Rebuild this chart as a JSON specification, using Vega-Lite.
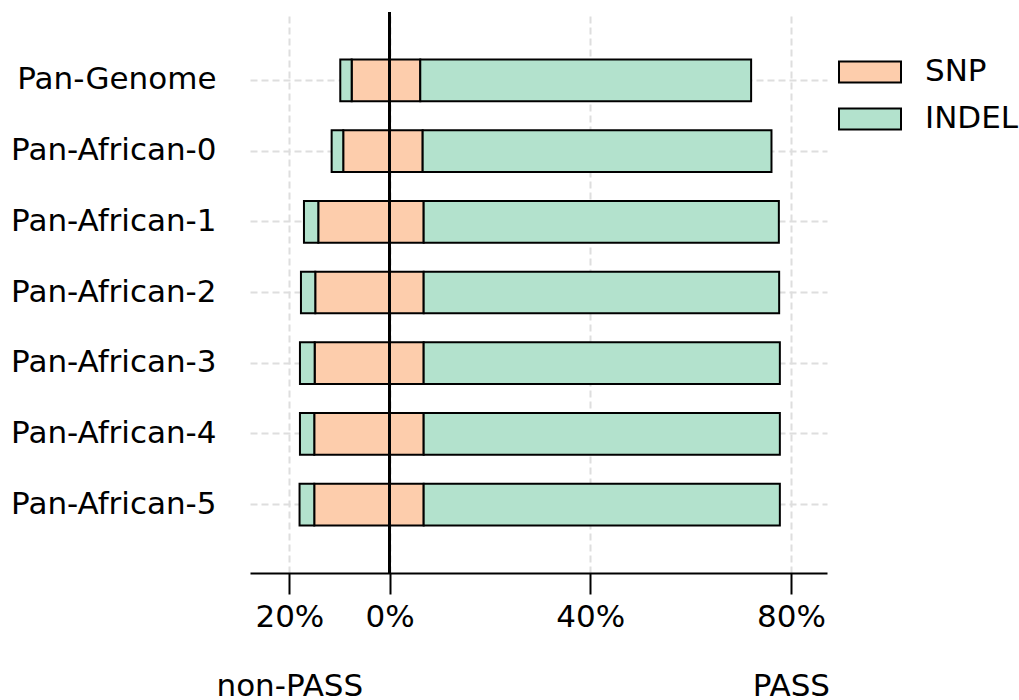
{
  "$schema": "https://vega.github.io/schema/vega-lite/v6.json",
  "width": 577,
  "height": 561,
  "autosize": {"type": "none"},
  "padding": {"left": 250, "top": 12, "right": 192, "bottom": 127},
  "background": "white",
  "config": {"view": {"stroke": null}, "font": "DejaVu Sans"},
  "data": {
    "values": [
      {"panel": "Pan-Genome", "type": "SNP", "pct": -7.58},
      {"panel": "Pan-Genome", "type": "INDEL", "pct": -2.27},
      {"panel": "Pan-Genome", "type": "SNP", "pct": 6.10},
      {"panel": "Pan-Genome", "type": "INDEL", "pct": 65.97},
      {"panel": "Pan-African-0", "type": "SNP", "pct": -9.26},
      {"panel": "Pan-African-0", "type": "INDEL", "pct": -2.31},
      {"panel": "Pan-African-0", "type": "SNP", "pct": 6.58},
      {"panel": "Pan-African-0", "type": "INDEL", "pct": 69.55},
      {"panel": "Pan-African-1", "type": "SNP", "pct": -14.24},
      {"panel": "Pan-African-1", "type": "INDEL", "pct": -2.85},
      {"panel": "Pan-African-1", "type": "SNP", "pct": 6.78},
      {"panel": "Pan-African-1", "type": "INDEL", "pct": 70.82},
      {"panel": "Pan-African-2", "type": "SNP", "pct": -14.84},
      {"panel": "Pan-African-2", "type": "INDEL", "pct": -2.85},
      {"panel": "Pan-African-2", "type": "SNP", "pct": 6.78},
      {"panel": "Pan-African-2", "type": "INDEL", "pct": 70.88},
      {"panel": "Pan-African-3", "type": "SNP", "pct": -14.96},
      {"panel": "Pan-African-3", "type": "INDEL", "pct": -2.93},
      {"panel": "Pan-African-3", "type": "SNP", "pct": 6.78},
      {"panel": "Pan-African-3", "type": "INDEL", "pct": 71.02},
      {"panel": "Pan-African-4", "type": "SNP", "pct": -15.04},
      {"panel": "Pan-African-4", "type": "INDEL", "pct": -2.85},
      {"panel": "Pan-African-4", "type": "SNP", "pct": 6.78},
      {"panel": "Pan-African-4", "type": "INDEL", "pct": 71.02},
      {"panel": "Pan-African-5", "type": "SNP", "pct": -15.04},
      {"panel": "Pan-African-5", "type": "INDEL", "pct": -2.93},
      {"panel": "Pan-African-5", "type": "SNP", "pct": 6.78},
      {"panel": "Pan-African-5", "type": "INDEL", "pct": 71.02}
    ]
  },
  "layer": [
    {
      "mark": {"type": "bar", "stroke": "black", "strokeWidth": 2, "opacity": 1},
      "encoding": {
        "y": {
          "field": "panel",
          "type": "nominal",
          "sort": ["Pan-Genome", "Pan-African-0", "Pan-African-1", "Pan-African-2", "Pan-African-3", "Pan-African-4", "Pan-African-5"],
          "scale": {"paddingInner": 0.41, "paddingOuter": 0.67},
          "axis": {
            "title": null,
            "domain": false,
            "ticks": false,
            "tickSize": 0,
            "labelFontSize": 31,
            "labelFont": "DejaVu Sans",
            "labelColor": "black",
            "labelPadding": 34,
            "labelLimit": 400,
            "grid": true,
            "gridColor": "#dedede",
            "gridDash": [7, 4],
            "gridWidth": 2
          }
        },
        "x": {
          "field": "pct",
          "type": "quantitative",
          "stack": "zero",
          "scale": {"domain": [-27.85, 87.2], "nice": false, "zero": false},
          "axis": {
            "title": null,
            "values": [-20, 0, 40, 80],
            "labelExpr": "datum.value == -20 ? ['20%', 'non-PASS'] : datum.value == 80 ? ['80%', 'PASS'] : abs(datum.value) + '%'",
            "domainColor": "black",
            "domainWidth": 2,
            "tickColor": "black",
            "tickWidth": 2,
            "tickSize": 21,
            "labelFontSize": 31,
            "labelFont": "DejaVu Sans",
            "labelColor": "black",
            "labelPadding": 8,
            "labelLineHeight": 69,
            "labelOverlap": false,
            "labelFlush": false,
            "grid": true,
            "gridColor": "#dedede",
            "gridDash": [7, 4],
            "gridWidth": 2
          }
        },
        "color": {
          "field": "type",
          "type": "nominal",
          "scale": {"domain": ["SNP", "INDEL"], "range": ["#fdcdac", "#b3e2cd"]},
          "legend": {
            "title": null,
            "orient": "none",
            "legendX": 588,
            "legendY": 28,
            "symbolType": "M-1,-0.34H1V0.34H-1Z",
            "symbolSize": 3844,
            "symbolStrokeColor": "black",
            "symbolStrokeWidth": 2,
            "symbolOpacity": 1,
            "labelFontSize": 31,
            "labelFont": "DejaVu Sans",
            "labelColor": "black",
            "labelOffset": 23,
            "rowPadding": -4.5
          }
        },
        "order": {"field": "type", "sort": "descending"}
      }
    },
    {
      "mark": {"type": "rule", "color": "black", "strokeWidth": 2},
      "encoding": {
        "x": {"datum": 0, "type": "quantitative"}
      }
    }
  ]
}
